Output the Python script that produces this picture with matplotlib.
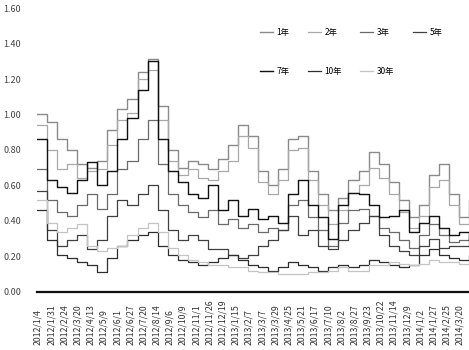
import matplotlib
matplotlib.use("Agg")
import matplotlib.pyplot as plt
import numpy as np

plt.rcParams['font.family'] = ['Noto Sans CJK SC', 'DejaVu Sans']

series_names = ["1年", "2年", "3年", "5年", "7年", "10年", "30年"]

s_1y = [1.00, 0.96, 0.86, 0.80, 0.72, 0.70, 0.74, 0.91, 1.03, 1.09, 1.24, 1.31, 1.05, 0.80, 0.70,
        0.74, 0.72, 0.69, 0.75, 0.83, 0.94, 0.88, 0.68, 0.60, 0.69, 0.86, 0.88, 0.68, 0.55, 0.46,
        0.53, 0.63, 0.68, 0.79, 0.72, 0.62, 0.52, 0.42, 0.49, 0.66, 0.72, 0.55, 0.42, 0.52]
s_2y = [0.94, 0.80, 0.69, 0.72, 0.64, 0.68, 0.69, 0.83, 0.97, 1.01, 1.20, 1.25, 0.97, 0.74, 0.66,
        0.69, 0.64, 0.63, 0.68, 0.74, 0.88, 0.81, 0.62, 0.55, 0.63, 0.80, 0.81, 0.63, 0.49, 0.38,
        0.46, 0.56, 0.60, 0.70, 0.64, 0.55, 0.45, 0.36, 0.43, 0.59, 0.63, 0.49, 0.38, 0.45]
s_3y = [0.69, 0.52, 0.45, 0.43, 0.49, 0.55, 0.47, 0.55, 0.69, 0.74, 0.86, 0.97, 0.72, 0.55, 0.49,
        0.45, 0.42, 0.46, 0.38, 0.41, 0.36, 0.38, 0.34, 0.36, 0.35, 0.49, 0.52, 0.42, 0.35, 0.26,
        0.39, 0.46, 0.47, 0.43, 0.36, 0.34, 0.29, 0.25, 0.32, 0.38, 0.32, 0.28, 0.29, 0.32]
s_5y = [0.57, 0.35, 0.26, 0.29, 0.32, 0.24, 0.29, 0.43, 0.52, 0.49, 0.55, 0.60, 0.46, 0.35, 0.29,
        0.32, 0.29, 0.24, 0.24, 0.21, 0.19, 0.21, 0.26, 0.29, 0.35, 0.43, 0.32, 0.35, 0.26, 0.24,
        0.29, 0.35, 0.39, 0.43, 0.32, 0.26, 0.23, 0.21, 0.26, 0.30, 0.25, 0.26, 0.26, 0.30]
s_7y = [0.86, 0.63, 0.59, 0.56, 0.63, 0.73, 0.60, 0.68, 0.86, 0.98, 1.14, 1.30, 0.86, 0.68, 0.62,
        0.55, 0.53, 0.60, 0.46, 0.52, 0.43, 0.47, 0.41, 0.43, 0.39, 0.55, 0.63, 0.49, 0.42, 0.30,
        0.49, 0.56, 0.55, 0.49, 0.42, 0.43, 0.46, 0.34, 0.39, 0.43, 0.36, 0.32, 0.34, 0.29]
s_10y = [0.46, 0.29, 0.21, 0.19, 0.17, 0.15, 0.11, 0.19, 0.26, 0.29, 0.32, 0.34, 0.26, 0.21, 0.18,
         0.17, 0.15, 0.17, 0.19, 0.21, 0.18, 0.15, 0.14, 0.12, 0.14, 0.17, 0.15, 0.14, 0.12, 0.14,
         0.15, 0.14, 0.15, 0.18, 0.17, 0.15, 0.14, 0.15, 0.21, 0.24, 0.21, 0.19, 0.18, 0.21]
s_30y = [0.52, 0.39, 0.34, 0.36, 0.38, 0.26, 0.23, 0.25, 0.26, 0.32, 0.36, 0.39, 0.34, 0.25, 0.21,
         0.18, 0.17, 0.15, 0.15, 0.14, 0.14, 0.12, 0.11, 0.11, 0.10, 0.10, 0.10, 0.11, 0.11, 0.12,
         0.14, 0.12, 0.12, 0.15, 0.15, 0.17, 0.16, 0.15, 0.16, 0.18, 0.17, 0.17, 0.16, 0.18]

x_labels = ["2012/1/4", "2012/1/31", "2012/2/24", "2012/3/20", "2012/4/13", "2012/5/9",
            "2012/6/1", "2012/6/27", "2012/7/20", "2012/8/14", "2012/9/6", "2012/10/9",
            "2012/11/1", "2012/11/26", "2012/12/19", "2013/1/15", "2013/2/7", "2013/3/7",
            "2013/3/29", "2013/4/25", "2013/5/21", "2013/6/17", "2013/7/10", "2013/8/2",
            "2013/8/27", "2013/9/23", "2013/10/22", "2013/11/14", "2013/12/9", "2014/1/2",
            "2014/1/27", "2014/2/25", "2014/3/20"]

y_ticks = [0.0, 0.2, 0.4, 0.6, 0.8, 1.0, 1.2, 1.4, 1.6]

all_series = [s_1y, s_2y, s_3y, s_5y, s_7y, s_10y, s_30y]
colors = ["#8a8a8a", "#a8a8a8", "#6a6a6a", "#404040", "#111111", "#2e2e2e", "#c4c4c4"]
widths = [1.0, 0.9, 0.9, 0.9, 1.0, 0.9, 0.9]

fig = plt.figure(figsize=(4.69, 3.5), dpi=100)
ax = fig.add_axes([0.079, 0.166, 0.921, 0.811])

handles = []
for name, vals, c, w in zip(series_names, all_series, colors, widths):
    x = np.arange(len(vals))
    (h,) = ax.plot(x, vals, color=c, lw=w, drawstyle="steps-post", label=name)
    handles.append(h)

n = len(s_1y)
ax.set_xlim(0, n - 1)
ax.set_ylim(0, 1.6)
ax.set_yticks(y_ticks)
ax.set_yticklabels([f"{v:.2f}" for v in y_ticks], fontsize=6.5, color="#444444")

tick_pos = np.linspace(0.1, 42.1, len(x_labels))
ax.set_xticks(tick_pos)
ax.set_xticklabels(x_labels, rotation=90, fontsize=6.3, color="#333333", va="bottom")
ax.tick_params(axis="x", length=0, pad=38)
ax.tick_params(axis="y", length=0, pad=24)
for lab in ax.get_yticklabels():
    lab.set_ha("left")

for sp in ["left", "right", "top"]:
    ax.spines[sp].set_visible(False)
ax.spines["bottom"].set_color("#111111")
ax.spines["bottom"].set_linewidth(1.6)

order = [0, 4, 1, 5, 2, 6, 3]
leg = fig.legend([handles[i] for i in order], [series_names[i] for i in order],
                 ncol=4, loc="upper left", bbox_to_anchor=(252 / 469, 1 - 20 / 350),
                 frameon=False, fontsize=6, handlelength=1.6, handletextpad=0.4,
                 columnspacing=2.2, labelspacing=3.6)

fig.savefig("out.png", dpi=100)
